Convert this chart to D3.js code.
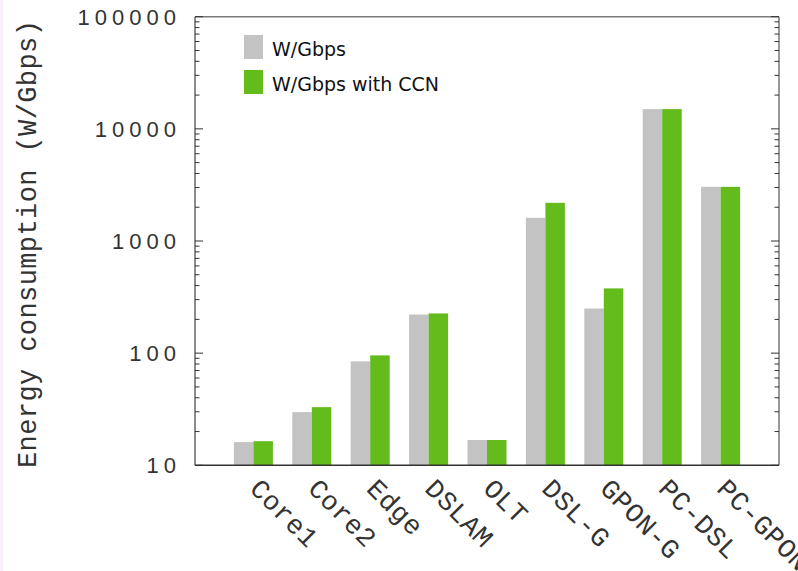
<!DOCTYPE html>
<html>
<head>
<meta charset="utf-8">
<script src="https://cdn.jsdelivr.net/npm/d3@7"></script>
<style>
  html, body { margin: 0; padding: 0; background: #fff; }
  svg { display: block; }
</style>
</head>
<body>
<svg id="chart" width="798" height="571"></svg>
<script>
// Network segments
const categories = ["Core1", "Core2", "Edge", "DSLAM", "OLT", "DSL-G", "GPON-G", "PC-DSL", "PC-GPON"];
// Energy per throughput (W/Gbps)
const wGbps        = [16.1, 29.8, 84.5, 221, 16.8, 1610, 250, 15000, 3040];
const wGbpsWithCCN = [16.4, 33.0, 95.5, 226, 16.8, 2190, 378, 15000, 3040];
const seriesNames = ["W/Gbps", "W/Gbps with CCN"];
const yTickValues = [10, 100, 1000, 10000, 100000];

const colors = ["#c3c3c3", "#64bb1c"];

const svg = d3.select("#chart");
const plotLeft = 195, plotRight = 779, plotTop = 16.7, plotBottom = 465.3;

// faint page edge on the left
svg.append("rect").attr("x", 0).attr("y", 0).attr("width", 3).attr("height", 571).attr("fill", "#fbeefb");

const x = d3.scaleLinear().domain([0, categories.length + 1]).range([plotLeft, plotRight]);
const y = d3.scaleLog().domain([10, 100000]).range([plotBottom, plotTop]);
const barW = 19.5;

// bars
const series = [wGbps, wGbpsWithCCN];
series.forEach((vals, s) => {
  svg.append("g").selectAll("rect")
    .data(vals)
    .join("rect")
    .attr("x", (d, i) => x(i + 1) - barW + s * barW)
    .attr("width", barW)
    .attr("y", d => y(d))
    .attr("height", d => plotBottom - y(d))
    .attr("fill", colors[s]);
});

// frame
svg.append("line").attr("x1", plotLeft).attr("x2", plotRight).attr("y1", plotTop).attr("y2", plotTop)
  .attr("stroke", "#7a7a7a").attr("stroke-width", 1.5);
svg.append("line").attr("x1", plotRight).attr("x2", plotRight).attr("y1", plotTop).attr("y2", plotBottom)
  .attr("stroke", "#777").attr("stroke-width", 1.5);
svg.append("line").attr("x1", plotLeft).attr("x2", plotLeft).attr("y1", plotTop).attr("y2", plotBottom)
  .attr("stroke", "#666").attr("stroke-width", 1.5);
svg.append("line").attr("x1", plotLeft).attr("x2", plotRight).attr("y1", plotBottom).attr("y2", plotBottom)
  .attr("stroke", "#333").attr("stroke-width", 1.5);

// y axis ticks (inward on both sides)
const allTicks = y.ticks().filter(t => t >= 10 && t <= 100000);
const isMajor = t => yTickValues.includes(t);
const tickG = svg.append("g");
allTicks.forEach(t => {
  const len = isMajor(t) ? 8 : 4.5;
  tickG.append("line").attr("x1", plotLeft).attr("x2", plotLeft + len).attr("y1", y(t)).attr("y2", y(t))
    .attr("stroke", "#333").attr("stroke-width", 1);
  tickG.append("line").attr("x1", plotRight).attr("x2", plotRight - len).attr("y1", y(t)).attr("y2", y(t))
    .attr("stroke", "#333").attr("stroke-width", 1);
});

// y tick labels
svg.append("g").selectAll("text")
  .data(yTickValues)
  .join("text")
  .attr("x", 181)
  .attr("y", d => y(d))
  .attr("dy", "0.36em")
  .attr("text-anchor", "end")
  .attr("font-family", "Liberation Sans, Arial, sans-serif")
  .attr("font-size", 22)
  .attr("letter-spacing", 5)
  .attr("fill", "#333")
  .text(d => d3.format("d")(d));

// y axis title
svg.append("text")
  .attr("transform", "translate(36,468) rotate(-90)")
  .attr("text-anchor", "start")
  .attr("font-family", "Liberation Mono, Courier New, monospace")
  .attr("font-size", 27)
  .attr("letter-spacing", 0.4)
  .attr("fill", "#333")
  .text("Energy consumption (W/Gbps)");

// x category labels, rotated
svg.append("g").selectAll("text")
  .data(categories)
  .join("text")
  .attr("transform", (d, i) => `translate(${x(i + 1) - 5},490) rotate(45)`)
  .attr("text-anchor", "start")
  .attr("font-family", "Liberation Mono, Courier New, monospace")
  .attr("font-size", 27)
  .attr("letter-spacing", 0.5)
  .attr("fill", "#333")
  .text(d => d);

// legend
const legend = svg.append("g");
seriesNames.forEach((name, i) => {
  legend.append("rect").attr("x", 244).attr("y", 35 + i * 35).attr("width", 19).attr("height", 24)
    .attr("fill", colors[i]);
  legend.append("text").attr("x", 272).attr("y", 56 + i * 35)
    .attr("font-family", "DejaVu Sans, Verdana, sans-serif")
    .attr("font-size", 19)
    .attr("fill", "#111")
    .text(name);
});
</script>
</body>
</html>
